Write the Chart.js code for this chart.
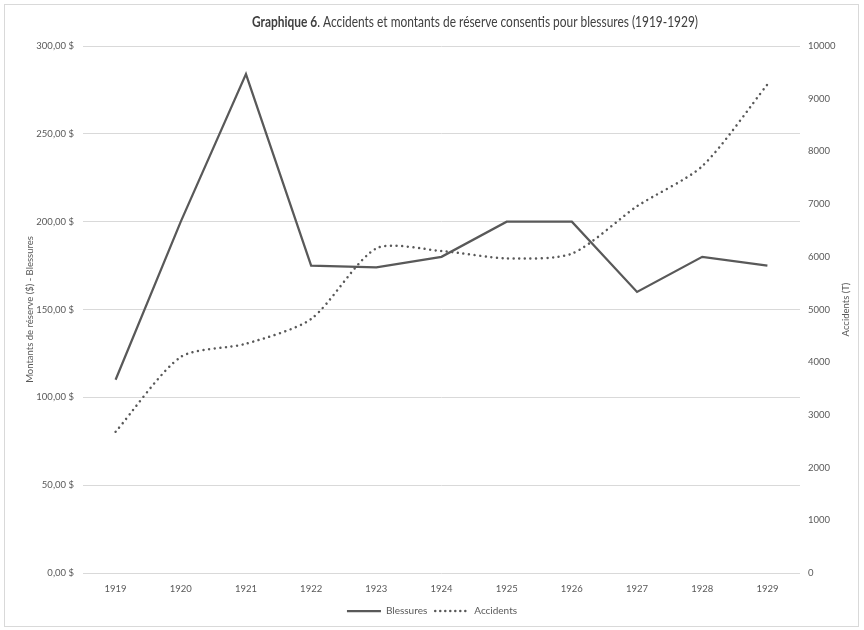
<!DOCTYPE html>
<html lang="fr">
<head>
<meta charset="utf-8">
<script src="https://cdn.jsdelivr.net/npm/chart.js@4.4.1/dist/chart.umd.min.js"></script>
<style>
  html, body { margin: 0; padding: 0; background: #ffffff; }
  #wrap { position: relative; width: 864px; height: 630px; }
</style>
</head>
<body>
<div id="wrap"><canvas id="chart" width="864" height="630"></canvas></div>
<script>
// Années couvertes
const annees = ['1919', '1920', '1921', '1922', '1923', '1924', '1925', '1926', '1927', '1928', '1929'];
// Montants de réserve moyens consentis pour blessures ($)
const blessures = [110, 200, 284, 175, 174, 180, 200, 200, 160, 180, 175];
// Nombre d'accidents
const accidents = [2680, 4100, 4350, 4820, 6160, 6110, 5970, 6060, 6960, 7720, 9270];

const GRIS = '#595959';
const GRILLE = '#d9d9d9';
const POLICE = 'Lato, "Open Sans", sans-serif';

// Titre en deux graisses (légèrement condensé), cadre extérieur et titre de l'axe secondaire
const decor = {
  id: 'decor',
  afterDraw(chart) {
    const ctx = chart.ctx;
    ctx.save();
    // cadre
    ctx.strokeStyle = GRILLE;
    ctx.lineWidth = 1;
    ctx.strokeRect(4.5, 4.5, 854, 622);
    // titre
    const gras = 'Graphique 6';
    const reste = '. Accidents et montants de réserve consentis pour blessures (1919-1929)';
    const largeur = 446;
    ctx.fillStyle = '#404040';
    ctx.textBaseline = 'middle';
    ctx.font = 'bold 15px ' + POLICE;
    const w1 = ctx.measureText(gras).width;
    ctx.font = '15px ' + POLICE;
    const w2 = ctx.measureText(reste).width;
    const k = largeur / (w1 + w2);
    ctx.save();
    ctx.translate(475 - largeur / 2, 22);
    ctx.scale(k, 1);
    ctx.textAlign = 'left';
    ctx.font = 'bold 15px ' + POLICE;
    ctx.fillText(gras, 0, 0);
    ctx.font = '15px ' + POLICE;
    ctx.fillText(reste, w1, 0);
    ctx.restore();
    // titre de l'axe de droite (lu de bas en haut)
    const a = chart.chartArea;
    ctx.translate(846, (a.top + a.bottom) / 2);
    ctx.rotate(-Math.PI / 2);
    ctx.textAlign = 'center';
    ctx.fillStyle = GRIS;
    ctx.font = '9.5px ' + POLICE;
    ctx.fillText('Accidents (T)', 0, 0);
    ctx.restore();
  }
};

new Chart(document.getElementById('chart'), {
  type: 'line',
  data: {
    labels: annees,
    datasets: [
      {
        label: 'Blessures',
        data: blessures,
        yAxisID: 'y',
        borderColor: GRIS,
        backgroundColor: GRIS,
        borderWidth: 2.25,
        tension: 0,
        pointRadius: 0,
        pointHoverRadius: 0,
        fill: false
      },
      {
        label: 'Accidents',
        data: accidents,
        yAxisID: 'y2',
        borderColor: GRIS,
        backgroundColor: GRIS,
        borderWidth: 2.5,
        borderDash: [0.01, 5.6],
        borderCapStyle: 'round',
        tension: 0.25,
        pointRadius: 0,
        pointHoverRadius: 0,
        fill: false
      }
    ]
  },
  options: {
    responsive: false,
    animation: false,
    layout: { padding: { top: 46, left: 0, right: 0, bottom: 4 } },
    plugins: {
      title: { display: false },
      tooltip: { enabled: false },
      legend: {
        position: 'bottom',
        labels: {
          color: GRIS,
          font: { family: POLICE, size: 10 },
          usePointStyle: true,
          pointStyleWidth: 34,
          boxWidth: 34,
          boxHeight: 10,
          padding: 8,
          generateLabels(chart) {
            return chart.data.datasets.map((ds, i) => ({
              text: ds.label,
              datasetIndex: i,
              pointStyle: 'line',
              strokeStyle: GRIS,
              fillStyle: GRIS,
              fontColor: GRIS,
              lineWidth: i === 0 ? 2.25 : 2.5,
              lineDash: i === 0 ? [] : [0.01, 5],
              lineCap: i === 0 ? 'butt' : 'round',
              hidden: false
            }));
          }
        }
      }
    },
    scales: {
      x: {
        offset: true,
        grid: { display: false, drawTicks: false },
        border: { display: false },
        ticks: { color: GRIS, font: { family: POLICE, size: 9.5 }, padding: 10, maxRotation: 0 },
        afterFit(scale) { scale.height = 25; }
      },
      y: {
        position: 'left',
        min: 0,
        max: 300,
        grid: { color: GRILLE, lineWidth: 1, drawTicks: false },
        border: { display: false },
        ticks: {
          stepSize: 50,
          color: GRIS,
          font: { family: POLICE, size: 9.5 },
          padding: 9,
          callback: (v) => v.toFixed(2).replace('.', ',') + ' $'
        },
        title: {
          display: true,
          text: 'Montants de réserve ($) - Blessures',
          color: GRIS,
          font: { family: POLICE, size: 9.5 },
          padding: { top: 24, bottom: 0 }
        },
        afterFit(scale) { scale.width = 83; }
      },
      y2: {
        position: 'right',
        min: 0,
        max: 10000,
        grid: { display: false, drawTicks: false },
        border: { display: false },
        ticks: {
          stepSize: 1000,
          color: GRIS,
          font: { family: POLICE, size: 9.5 },
          padding: 8,
          callback: (v) => String(v)
        },
        afterFit(scale) { scale.width = 64; }
      }
    }
  },
  plugins: [decor]
});
</script>
</body>
</html>
